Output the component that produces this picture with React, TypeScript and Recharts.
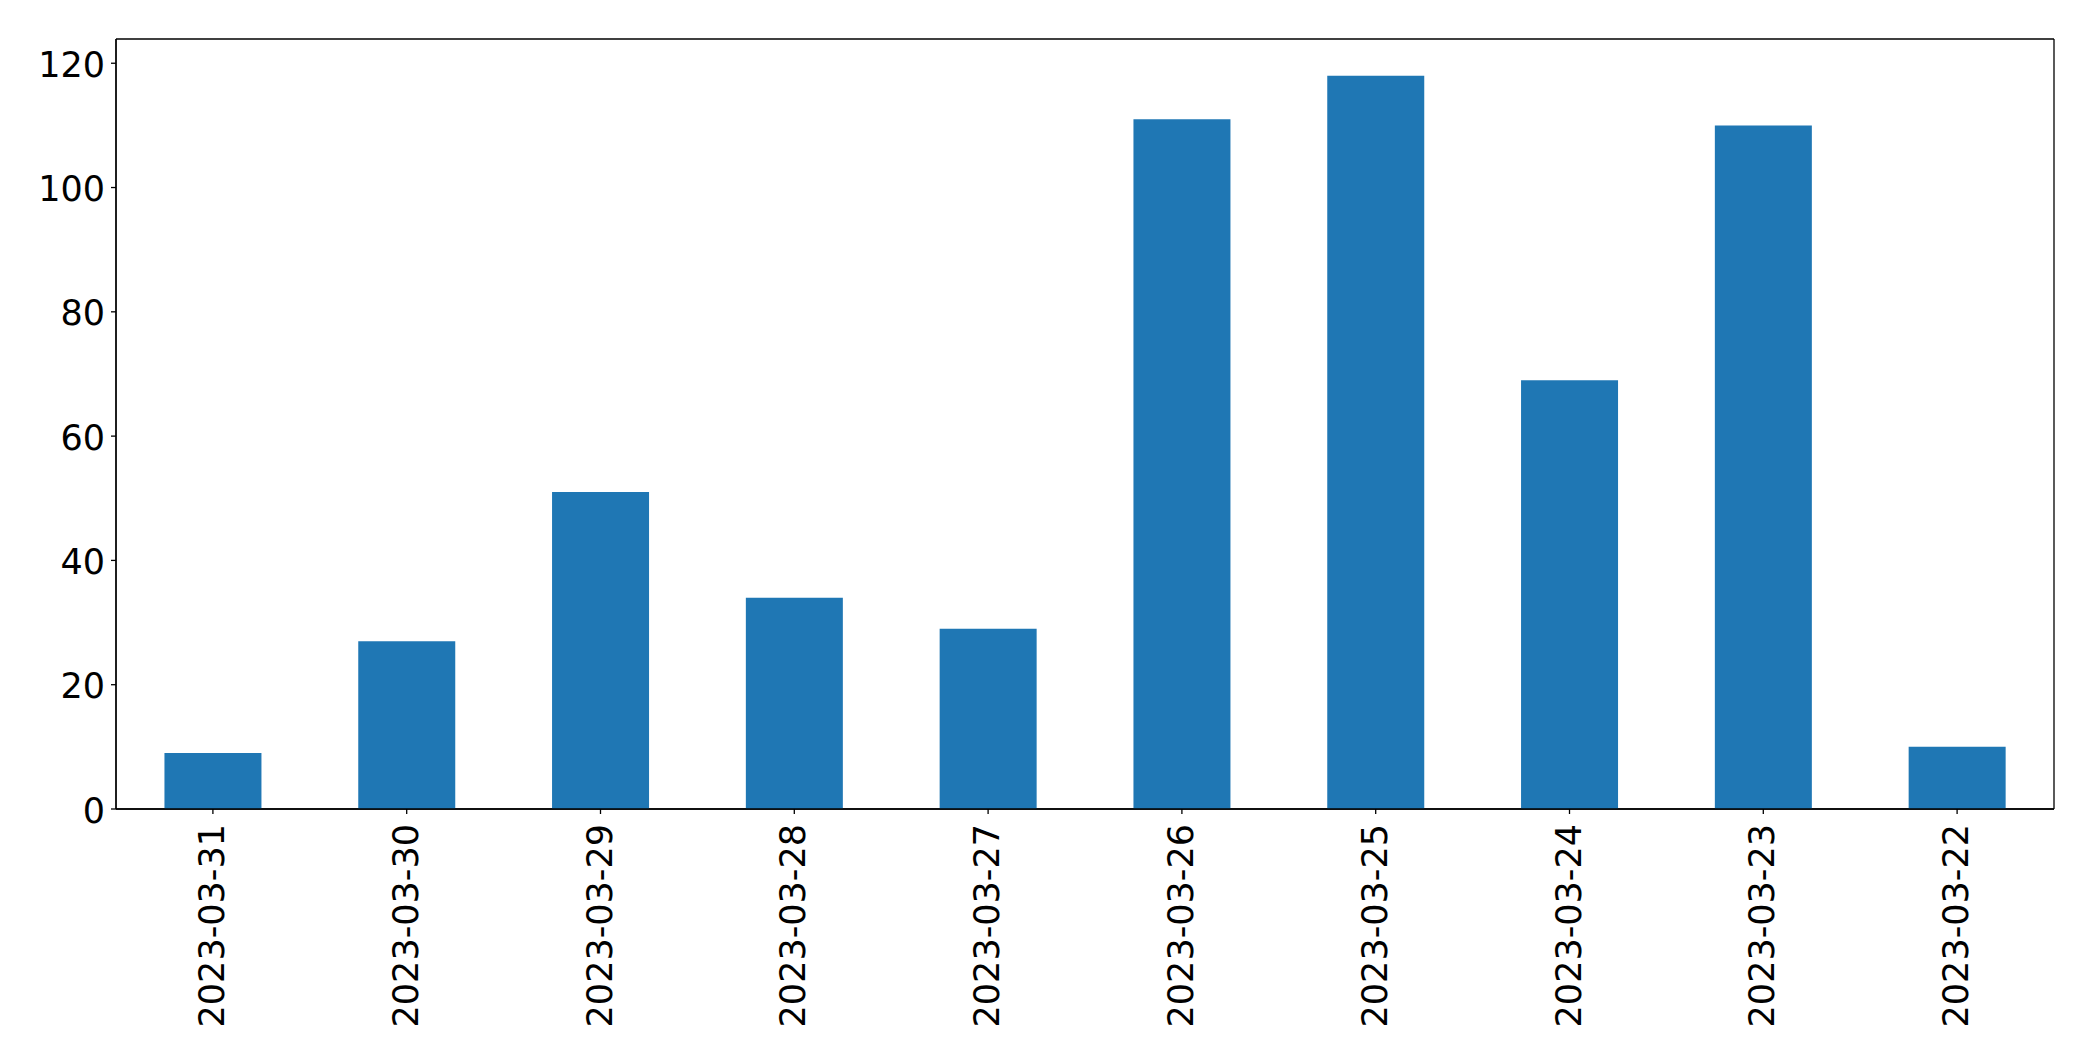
import React from "react";
import { BarChart, Bar, XAxis, YAxis, CartesianGrid } from "recharts";

const categories = [
  "2023-03-31",
  "2023-03-30",
  "2023-03-29",
  "2023-03-28",
  "2023-03-27",
  "2023-03-26",
  "2023-03-25",
  "2023-03-24",
  "2023-03-23",
  "2023-03-22",
];
const values = [9, 27, 51, 34, 29, 111, 118, 69, 110, 10];
const yTicks = [0, 20, 40, 60, 80, 100, 120];
const yMax = 123.9;

const data = categories.map((c, i) => ({ date: c, value: values[i] }));

const FONT = "'DejaVu Sans', sans-serif";

const XTick = (props: any) => {
  const { x, payload } = props;
  const y = 824;
  return (
    <text
      x={x}
      y={y}
      dy={11}
      transform={`rotate(-90, ${x}, ${y})`}
      textAnchor="end"
      fontFamily={FONT}
      fontSize={35}
      fill="#000"
    >
      {payload.value}
    </text>
  );
};

const YTick = (props: any) => {
  const { y, payload } = props;
  return (
    <text
      x={105}
      y={y}
      dy={13.5}
      textAnchor="end"
      fontFamily={FONT}
      fontSize={35}
      fill="#000"
    >
      {payload.value}
    </text>
  );
};

export default function App() {
  return (
    <div style={{ position: "absolute", left: 0, top: 0, background: "#fff" }}>
      <BarChart
        width={2093}
        height={1061}
        data={data}
        margin={{ top: 39, right: 39, left: 0, bottom: 0 }}
        barCategoryGap="25%"
      >
        <CartesianGrid
          stroke="#000"
          strokeWidth={1.3}
          horizontalCoordinatesGenerator={({ offset }: any) => [
            offset.top,
            offset.top + offset.height,
          ]}
          verticalCoordinatesGenerator={({ offset }: any) => [
            offset.left,
            offset.left + offset.width,
          ]}
        />
        <XAxis
          dataKey="date"
          height={252}
          interval={0}
          tickSize={5}
          tick={<XTick />}
          axisLine={{ stroke: "#000", strokeWidth: 1.3 }}
          tickLine={{ stroke: "#000", strokeWidth: 1.3 }}
        />
        <YAxis
          width={116}
          domain={[0, yMax]}
          ticks={yTicks}
          type="number"
          allowDataOverflow
          tickSize={5}
          tick={<YTick />}
          axisLine={{ stroke: "#000", strokeWidth: 1.3 }}
          tickLine={{ stroke: "#000", strokeWidth: 1.3 }}
        />
        <Bar dataKey="value" fill="#1f77b4" isAnimationActive={false} />
      </BarChart>
    </div>
  );
}
